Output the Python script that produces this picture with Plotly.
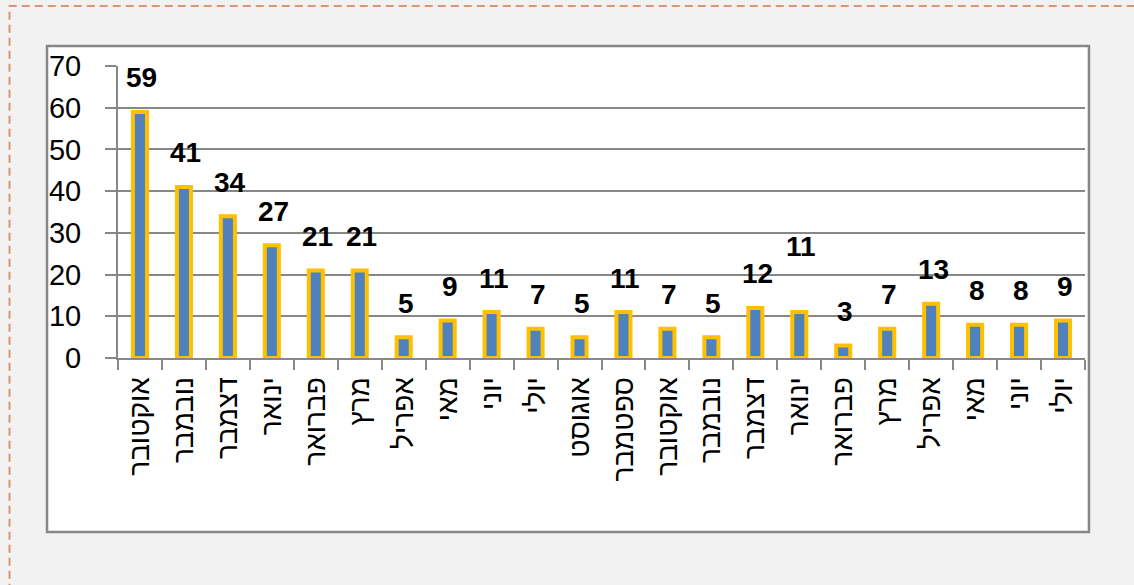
import plotly.graph_objects as go

months = ["אוקטובר", "נובמבר", "דצמבר", "ינואר", "פברואר", "מרץ", "אפריל", "מאי", "יוני", "יולי",
          "אוגוסט", "ספטמבר", "אוקטובר", "נובמבר", "דצמבר", "ינואר", "פברואר", "מרץ", "אפריל",
          "מאי", "יוני", "יולי"]
values = [59, 41, 34, 27, 21, 21, 5, 9, 11, 7, 5, 11, 7, 5, 12, 11, 3, 7, 13, 8, 8, 9]
y_ticks = [0, 10, 20, 30, 40, 50, 60, 70]

positions = list(range(len(months)))
GRID = "#878787"
FONT = "Liberation Sans"

fig = go.Figure()
fig.add_trace(go.Bar(
    x=positions, y=values, width=0.32,
    marker=dict(color="#4F81BD", line=dict(color="#FFC000", width=4)),
    hoverinfo="skip",
))

for i, v in enumerate(values):
    shift = 66 if i == 15 else 34
    fig.add_annotation(x=i, y=v, text="<b>%d</b>" % v, showarrow=False, yanchor="middle",
                       xshift=2, yshift=shift,
                       font=dict(family=FONT, size=28, color="black"))

# chart area boxes
fig.add_shape(type="rect", xref="paper", yref="paper", x0=-0.1122, x1=1.06, y0=-0.85, y1=1.2055,
              line=dict(color="#DB9475", width=2, dash="8px,5px"), fillcolor="#F2F2F2", layer="below")
fig.add_shape(type="rect", xref="paper", yref="paper", x0=-0.0734, x1=1.0041, y0=-0.5959, y1=1.0685,
              line=dict(color=GRID, width=2.5), fillcolor="white", layer="below")

fig.update_layout(
    width=1134, height=585,
    margin=dict(l=118, r=49, t=66, b=227),
    paper_bgcolor="#F2F2F2", plot_bgcolor="white",
    showlegend=False, bargap=0.6,
    font=dict(family=FONT, size=28, color="black"),
)
fig.update_xaxes(
    range=[-0.5, len(months) - 0.5], automargin=False,
    tickmode="array", tickvals=positions, ticktext=months, tickangle=-90,
    ticks="", ticklabelstandoff=6,
    showgrid=False, zeroline=False,
    showline=True, linecolor=GRID, linewidth=2,
    minor=dict(ticks="outside", tick0=-0.5, dtick=1, ticklen=10, tickwidth=2, tickcolor=GRID, showgrid=False),
    tickfont=dict(family=FONT, size=28),
)
fig.update_yaxes(
    range=[0, 70], tickmode="array", tickvals=y_ticks, automargin=False,
    showgrid=True, gridcolor=GRID, gridwidth=2,
    zeroline=False, showline=True, linecolor=GRID, linewidth=2,
    ticks="outside", ticklen=11, tickwidth=2, tickcolor=GRID, ticklabelstandoff=18,
    tickfont=dict(family=FONT, size=29),
)

fig.write_html("out.html", config={"displayModeBar": False},
               post_script="document.body.style.margin='0';document.body.style.overflow='hidden';")
